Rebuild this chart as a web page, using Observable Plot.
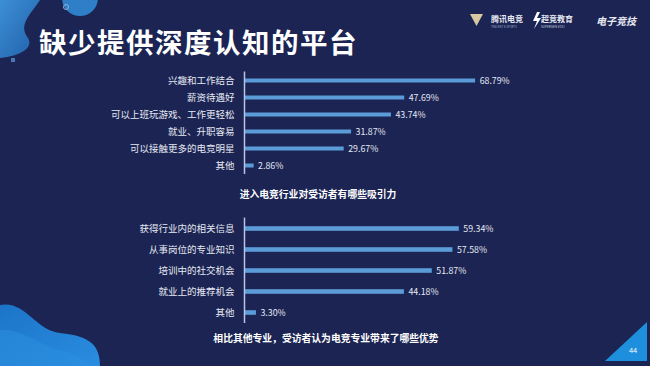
<!DOCTYPE html>
<html><head><meta charset="utf-8">
<script src="https://cdn.jsdelivr.net/npm/d3@7"></script>
<script src="https://cdn.jsdelivr.net/npm/@observablehq/plot@0.6"></script>
<style>
html,body{margin:0;padding:0;}
body{width:650px;height:366px;overflow:hidden;background:#1b2453;position:relative;font-family:"Noto Sans CJK SC","Noto Sans",sans-serif;}
.abs{position:absolute;}
#title{left:39px;top:21px;font-size:27.5px;font-weight:700;color:#fff;letter-spacing:1.5px;white-space:nowrap;}
.sub{font-size:9.8px;font-weight:700;color:#fff;white-space:nowrap;transform:translateX(-50%);}
</style></head><body>
<svg class="abs" style="left:0;top:0" width="650" height="366">
  <defs>
    <linearGradient id="g1" x1="0" y1="0" x2="1" y2="1"><stop offset="0" stop-color="#3d8fd6"/><stop offset="1" stop-color="#1f5fa8"/></linearGradient>
    <linearGradient id="g2" x1="0" y1="0" x2="1" y2="1"><stop offset="0" stop-color="#1c74c8"/><stop offset="1" stop-color="#2a8de0"/></linearGradient>
  </defs>
  <path d="M0,0 L40,0 C30,15 18,25 28,38 C34,48 20,56 0,58 Z" fill="url(#g1)"/>
  <circle cx="80" cy="-2" r="18" fill="#2f7fc8"/>
  <circle cx="66" cy="7" r="2.5" fill="none" stroke="#8fb0d8" stroke-width="1"/>
  <rect x="11" y="58" width="4" height="4" fill="#4a78b0"/>
  <path d="M0,305 C25,300 35,330 60,333 C90,336 100,345 100,366 L0,366 Z" fill="url(#g2)"/>
  <path d="M0,330 C20,328 40,345 60,350 C75,354 85,358 90,366 L0,366 Z" fill="#2b90e0" opacity="0.5"/>
  <polygon points="605,361 647,361 647,322" fill="#1e8fdc"/>
  <text x="633" y="353" fill="#fff" font-size="7" font-family="Noto Sans" text-anchor="middle">44</text>
  <polygon points="470,14 483,14 476.5,26" fill="#d8c9a0"/>
  <text x="491" y="22" fill="#e8e8f0" font-size="8" font-weight="700" font-family="Noto Sans CJK SC">腾讯电竞</text>
  <text x="491" y="27.5" fill="#9aa4c0" font-size="2.8" font-family="Noto Sans">TENCENT E-SPORTS</text>
  <polygon points="537,12 533,21 537,21 534,29 541,18 537,18 540,12" fill="#fff"/>
  <text x="541" y="22" fill="#e8e8f0" font-size="8" font-weight="700" font-family="Noto Sans CJK SC">超竞教育</text>
  <text x="541" y="27.5" fill="#c0c8dc" font-size="3.2" font-family="Noto Sans">SUPERGEN EDU</text>
  <text x="596" y="25" fill="#e8e8f0" font-size="10" font-weight="700" font-style="italic" font-family="Noto Sans CJK SC">电子竞技</text>
</svg>
<div id="title" class="abs">缺少提供深度认知的平台</div>
<div id="c1" class="abs" style="left:0;top:60px"></div>
<div id="c2" class="abs" style="left:0;top:205px"></div>
<div class="abs sub" style="left:318px;top:187px">进入电竞行业对受访者有哪些吸引力</div>
<div class="abs sub" style="left:326px;top:331px">相比其他专业，受访者认为电竞专业带来了哪些优势</div>
<script>
const cats1 = ["兴趣和工作结合","薪资待遇好","可以上班玩游戏、工作更轻松","就业、升职容易","可以接触更多的电竞明星","其他"];
const vals1 = [68.79, 47.69, 43.74, 31.87, 29.67, 2.86];
const labels1 = ["68.79%","47.69%","43.74%","31.87%","29.67%","2.86%"];
const cats2 = ["获得行业内的相关信息","从事岗位的专业知识","培训中的社交机会","就业上的推荐机会","其他"];
const vals2 = [59.34, 57.58, 51.87, 44.18, 3.30];
const labels2 = ["59.34%","57.58%","51.87%","44.18%","3.30%"];

function chart(cats, vals, labels, opts) {
  const data = cats.map((c, i) => ({c, v: vals[i], l: labels[i]}));
  return Plot.plot({
    width: 650, height: opts.height,
    marginLeft: 244, marginRight: opts.mr, marginTop: opts.mt, marginBottom: 0,
    style: {background: "transparent", color: "#e6e9f2", fontSize: "9.5px", fontFamily: "'Noto Sans CJK SC', sans-serif"},
    x: {domain: [0, 100], axis: null},
    y: {domain: cats, padding: 0, label: null},
    marks: [
      Plot.barX(data, {y: "c", x: "v", fill: "#5b9bd8", insetTop: opts.inset, insetBottom: opts.inset}),
      Plot.ruleX([0], {stroke: "#b9c5e2", strokeWidth: 1.5}),
      Plot.axisY({tickSize: 0, tickPadding: 10, label: null, fontSize: 9.5, fill: "#e6e9f2"}),
      Plot.text(data, {y: "c", x: "v", text: "l", dx: 4, textAnchor: "start", fill: "#e6e9f2", fontSize: 8.8})
    ]
  });
}
document.getElementById("c1").append(chart(cats1, vals1, labels1, {height: 114, mt: 11.5, mr: 70, inset: 6.5}));
document.getElementById("c2").append(chart(cats2, vals2, labels2, {height: 118, mt: 12.5, mr: 44, inset: 8.2}));
</script>
</body></html>
